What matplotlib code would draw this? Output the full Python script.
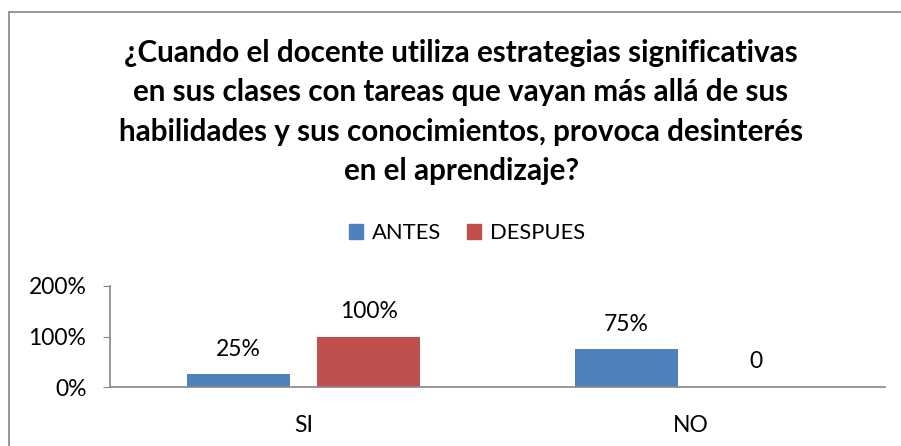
import numpy as np
import matplotlib
matplotlib.use("Agg")
import matplotlib.pyplot as plt
import matplotlib.patches as pch

# data
categories = ["SI", "NO"]
antes = [0.25, 0.75]
despues = [1.00, 0.00]
antes_labels = ["25%", "75%"]
despues_labels = ["100%", "0"]
yticks = [0, 1, 2]
ytick_labels = ["0%", "100%", "200%"]
title = ("¿Cuando el docente utiliza estrategias significativas\n"
         "en sus clases con tareas que vayan más allá de sus\n"
         "habilidades y sus conocimientos, provoca desinterés\n"
         "en el aprendizaje?")

BLUE = "#4F81BD"
RED = "#C0504D"
GRID = "#868686"
FONT = "Lato"
NUM_FS = 16.5


def main():
    W, H = 901, 446
    fig = plt.figure(figsize=(W / 100, H / 100), dpi=100)
    plt.rcParams['font.family'] = [FONT, 'DejaVu Sans']

    # outer chart border (only left and top visible)
    fig.add_artist(pch.Rectangle((9 / W, -0.1), 1.2, 1 - 12 / H + 0.1,
                                 transform=fig.transFigure, fill=False,
                                 edgecolor=GRID, linewidth=1.2))

    ax = fig.add_axes([110 / W, 1 - 387 / H, (885 - 110) / W, (387 - 286) / H])
    x = np.arange(len(categories))
    w = 0.266
    off = 0.168
    ax.bar(x - off, antes, w, color=BLUE)
    ax.bar(x + off, despues, w, color=RED)

    for i in range(len(categories)):
        ax.annotate(antes_labels[i], (x[i] - off, antes[i]), xytext=(0, 18),
                    textcoords="offset points", ha="center", va="center",
                    fontsize=NUM_FS)
        ax.annotate(despues_labels[i], (x[i] + off, despues[i]), xytext=(0, 18),
                    textcoords="offset points", ha="center", va="center",
                    fontsize=NUM_FS)

    ax.set_xlim(-0.5, 1.5)
    ax.set_ylim(0, 2)
    ax.set_yticks(yticks)
    ax.set_yticklabels(ytick_labels, fontsize=NUM_FS)
    ax.set_xticks(x)
    ax.set_xticklabels(categories, fontsize=NUM_FS)
    ax.tick_params(axis="x", length=0, pad=20)
    ax.tick_params(axis="y", length=5, color=GRID, pad=12)
    for s in ["top", "right"]:
        ax.spines[s].set_visible(False)
    for s in ["left", "bottom"]:
        ax.spines[s].set_color(GRID)
        ax.spines[s].set_linewidth(1.2)

    fig.text(461 / W, 1 - 112 / H, title, ha="center", va="center",
             fontsize=21.3, fontweight="bold", linespacing=1.5)

    handles = [pch.Patch(color=BLUE, label="ANTES"),
               pch.Patch(color=RED, label="DESPUES")]
    fig.legend(handles=handles, loc="center", bbox_to_anchor=(467 / W, 1 - 233 / H),
               ncol=2, frameon=False, fontsize=15.8, handlelength=0.65,
               handleheight=0.65, handletextpad=0.4, columnspacing=1.2)

    fig.savefig("out.png", dpi=100)


if __name__ == '__main__':
    main()
